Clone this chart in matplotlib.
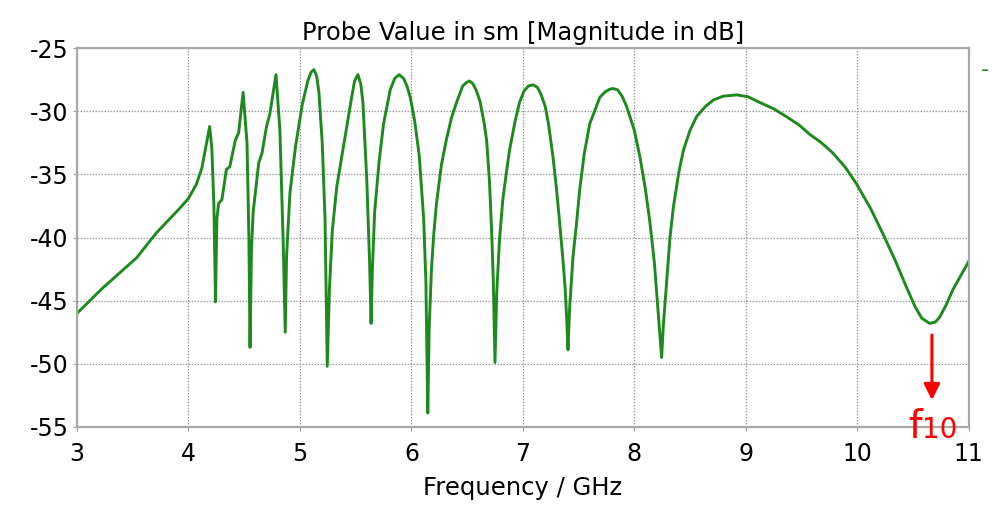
import matplotlib
matplotlib.use('Agg')
import matplotlib.pyplot as plt

plt.rcParams['font.family'] = ['DejaVu Sans']
plt.rcParams['axes.unicode_minus'] = False

# 읽어낸 곡선 (주파수 GHz, 크기 dB)
freq = [3.00, 3.23, 3.535, 3.715, 3.92, 4.00, 4.07, 4.12, 4.19, 4.21, 4.228, 4.242, 4.255,
        4.27, 4.30, 4.34, 4.37, 4.42, 4.45, 4.49, 4.525, 4.542, 4.552, 4.565, 4.58, 4.63,
        4.66, 4.70, 4.73, 4.785, 4.82, 4.85, 4.868, 4.88, 4.91, 4.96, 5.02, 5.07, 5.10, 5.125,
        5.15, 5.17, 5.20, 5.225, 5.245, 5.265, 5.29, 5.33, 5.40, 5.46, 5.49, 5.52, 5.545, 5.565,
        5.60, 5.625, 5.638, 5.65, 5.67, 5.71, 5.75, 5.81, 5.85, 5.89, 5.93, 5.96, 5.99,
        6.03, 6.07, 6.11, 6.13, 6.147, 6.16, 6.18, 6.20, 6.225, 6.27, 6.315, 6.36, 6.405,
        6.46, 6.49, 6.52, 6.55, 6.58, 6.615, 6.65, 6.675, 6.70, 6.72, 6.735, 6.75,
        6.765, 6.79, 6.82, 6.85, 6.88, 6.93, 6.97, 7.01, 7.05, 7.09, 7.13, 7.16, 7.20,
        7.23, 7.27, 7.30, 7.33, 7.36, 7.38, 7.395, 7.405, 7.42, 7.45, 7.48, 7.51, 7.55,
        7.60, 7.69, 7.74, 7.78, 7.81, 7.85, 7.89, 7.93, 8.00, 8.05, 8.10, 8.14, 8.18, 8.21,
        8.23, 8.245, 8.26, 8.29, 8.32, 8.35, 8.40, 8.44, 8.50, 8.56, 8.64, 8.71, 8.80, 8.92,
        9.02, 9.125, 9.25, 9.36, 9.48, 9.57, 9.68, 9.78, 9.89, 9.99, 10.12, 10.23, 10.34,
        10.44, 10.52, 10.58, 10.65, 10.70, 10.74, 10.80, 10.86, 10.93, 11.00]
mag = [-46.0, -44.0, -41.6, -39.6, -37.7, -36.9, -35.8, -34.5, -31.2, -33.0, -37.5, -45.1, -38.5,
       -37.3, -37.0, -34.6, -34.4, -32.3, -31.7, -28.5, -32.5, -40.0, -48.7, -41.0, -38.0, -34.1,
       -33.3, -31.2, -30.2, -27.1, -31.5, -40.5, -47.5, -41.5, -36.5, -32.8, -29.5, -27.6, -26.9, -26.7,
       -27.2, -28.5, -32.5, -38.5, -50.2, -44.0, -39.5, -36.0, -32.3, -29.1, -27.6, -27.1, -27.8, -29.3,
       -35.5, -42.0, -46.8, -42.5, -38.0, -34.0, -31.0, -28.3, -27.4, -27.1, -27.4, -28.0, -28.9,
       -30.8, -33.5, -38.5, -43.5, -53.9, -47.0, -42.5, -39.8, -37.3, -34.2, -32.2, -30.5, -29.3,
       -28.0, -27.75, -27.6, -27.8, -28.3, -29.2, -30.8, -32.3, -35.5, -39.5, -43.5, -49.9,
       -44.5, -40.2, -37.0, -35.0, -33.1, -30.8, -29.3, -28.4, -28.0, -27.9, -28.1, -28.6, -29.6,
       -31.0, -33.6, -36.0, -38.8, -41.8, -44.1, -46.8, -48.9, -45.5, -41.5, -39.0, -36.2, -33.4,
       -31.0, -28.9, -28.45, -28.25, -28.2, -28.3, -28.8, -29.6, -31.5, -33.6, -36.2, -38.8, -42.0, -45.5,
       -47.8, -49.5, -47.0, -43.5, -40.0, -37.6, -34.8, -33.1, -31.5, -30.4, -29.6, -29.1, -28.8, -28.7,
       -28.85, -29.3, -29.8, -30.4, -31.1, -31.8, -32.5, -33.3, -34.4, -35.7, -37.7, -39.7, -41.8,
       -43.9, -45.5, -46.4, -46.8, -46.7, -46.3, -45.3, -44.1, -43.0, -41.9]

# 화살표 위치
f10_freq = 10.67
arrow_top = -47.5
arrow_tip = -53.1

x_ticks = [3, 4, 5, 6, 7, 8, 9, 10, 11]
y_ticks = [-55, -50, -45, -40, -35, -30, -25]

fig = plt.figure(figsize=(10.03, 5.07), dpi=100)
ax = fig.add_axes([0.0768, 0.158, 0.889, 0.747])

ax.plot(freq, mag, color='#1e8a1e', linewidth=2.1)

ax.set_xlim(3, 11)
ax.set_ylim(-55, -25)
ax.set_xticks(x_ticks)
ax.set_yticks(y_ticks)
ax.tick_params(labelsize=17, length=3, color='#a0a0a0')
ax.tick_params(axis='x', pad=8)
ax.tick_params(axis='y', pad=3)
ax.grid(True, color='#9a9a9a', linestyle=(0, (1.2, 1.2)), linewidth=0.9)

for s in ax.spines.values():
    s.set_color('#a8a8a8')
    s.set_linewidth(1.6)

ax.set_title('Probe Value in sm [Magnitude in dB]', fontsize=17.5, pad=6)
ax.set_xlabel('Frequency / GHz', fontsize=17.5, labelpad=7)

# 빨간 화살표와 라벨
ax.annotate('', xy=(f10_freq, arrow_tip), xytext=(f10_freq, arrow_top),
            arrowprops=dict(arrowstyle='-|>', color='red', lw=2.2, mutation_scale=24),
            annotation_clip=False)
ax.text(10.58, -55.85, 'f', color='red', fontsize=28, ha='right', va='baseline')
ax.text(10.58, -55.85, '10', color='red', fontsize=20, ha='left', va='baseline')

# 오른쪽 위 범례 조각
fig.text(0.982, 0.862, '-', color='#1e8a1e', fontsize=16, ha='center', va='center')

plt.savefig('out.png', dpi=100)
